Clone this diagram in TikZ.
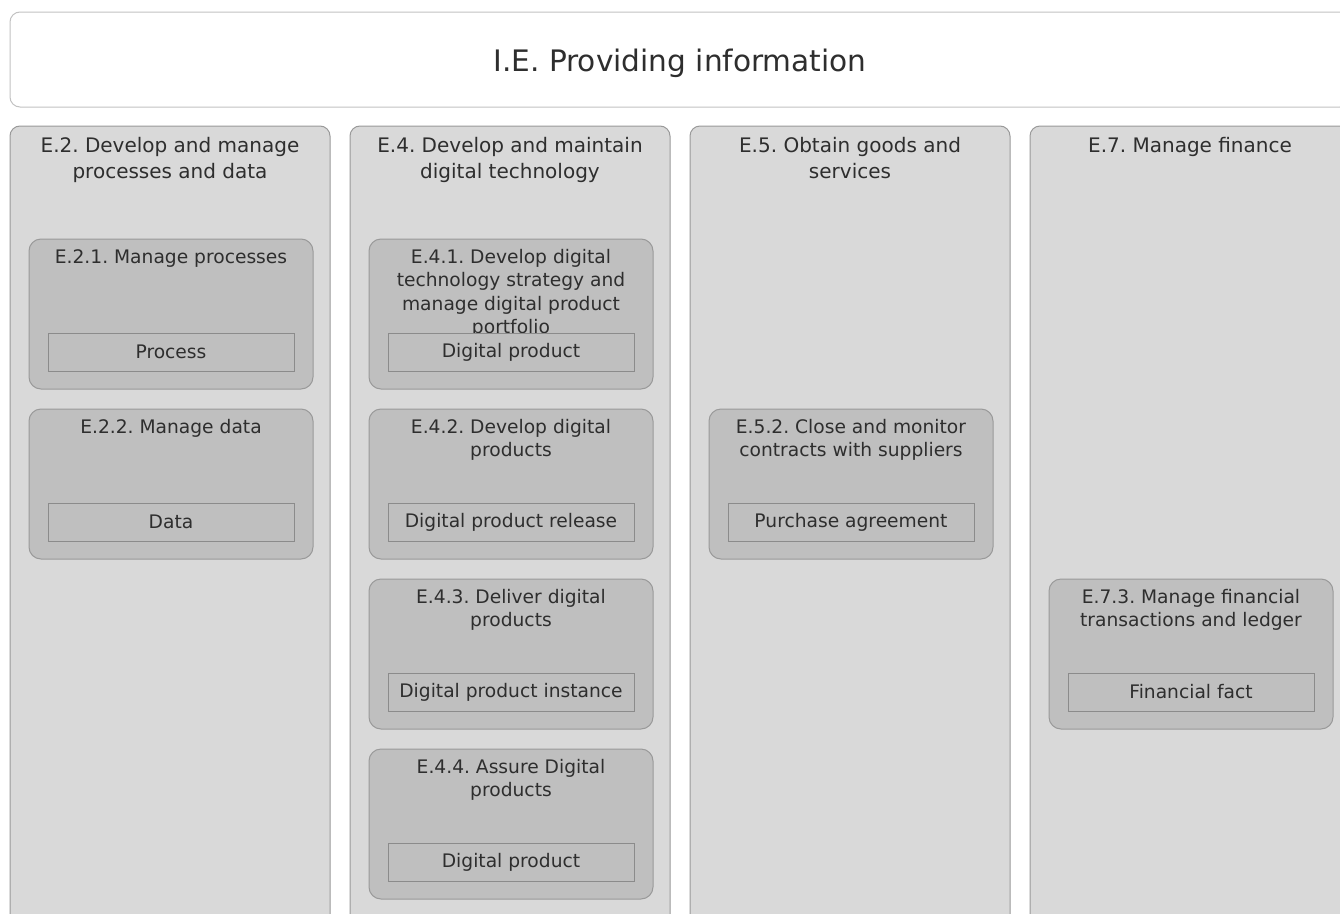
\documentclass[tikz,border=0pt]{standalone}
\usepackage{fontspec}
\setmainfont{DejaVu Sans}
\frenchspacing
\definecolor{boxline}{HTML}{9A9A9A}
\definecolor{capfill}{HTML}{D9D9D9}
\definecolor{procfill}{HTML}{BFBFBF}
\definecolor{inkgray}{HTML}{2E2E2E}
\begin{document}
\begin{tikzpicture}[x=0.75pt,y=-0.75pt,
    topbox/.style={draw=boxline!60,fill=white,rounded corners=7.5pt,line width=0.75pt,anchor=north west,minimum width=1005pt,minimum height=71.25pt,inner sep=0,outer sep=0},
    capability/.style={draw=boxline,fill=capfill,rounded corners=7.5pt,line width=0.75pt,anchor=north west,minimum width=240pt,minimum height=618pt,inner sep=0,outer sep=0},
    process/.style={draw=boxline,fill=procfill,rounded corners=9pt,line width=0.75pt,anchor=north west,minimum width=213pt,minimum height=112.5pt,inner sep=0,outer sep=0},
    entity/.style={draw=boxline!90!black,fill=procfill,line width=0.75pt,anchor=north,minimum width=184.5pt,minimum height=28.5pt,inner sep=0,outer sep=0,text=inkgray,font=\fontsize{14}{17.5}\selectfont},
    titletext/.style={anchor=base,inner sep=0,text=inkgray,font=\fontsize{22.2}{26}\selectfont},
    captext/.style={anchor=north,align=center,inner sep=0,text=inkgray,font=\fontsize{15}{19.5}\selectfont},
    proctext/.style={anchor=north,align=center,inner sep=0,text=inkgray,font=\fontsize{14}{17.5}\selectfont}]
    \useasboundingbox (0,0) rectangle (1340,914);
    \clip (0,0) rectangle (1340,914);
    \node[topbox] (ie) at (10,12) {};
    \node[titletext] (ietitle) at (680,71) {I.E. Providing information};
    \foreach \x/\n/\t in {10/e2/{E.2. Develop and manage\\processes and data},350/e4/{E.4. Develop and maintain\\digital technology},690/e5/{E.5. Obtain goods and\\services},1030/e7/{E.7. Manage finance}} {
        \node[capability] (\n) at (\x,126) {};
        \node[captext] (\n title) at ([yshift=-8pt]\n.north) {\t};
    }
    \foreach \x/\y/\n/\t/\d in {29/239/e21/{E.2.1. Manage processes}/Process,29/409/e22/{E.2.2. Manage data}/Data,369/239/e41/{E.4.1. Develop digital\\technology strategy and\\manage digital product\\portfolio}/Digital product,369/409/e42/{E.4.2. Develop digital\\products}/Digital product release,369/579/e43/{E.4.3. Deliver digital\\products}/Digital product instance,369/749/e44/{E.4.4. Assure Digital\\products}/Digital product,709/409/e52/{E.5.2. Close and monitor\\contracts with suppliers}/Purchase agreement,1049/579/e73/{E.7.3. Manage financial\\transactions and ledger}/Financial fact} {
        \node[process] (\n) at (\x,\y) {};
        \node[proctext] (\n title) at ([yshift=-7.5pt]\n.north) {\t};
        \node[entity] (\n data) at ([yshift=-70.5pt]\n.north) {\d};
    }
\end{tikzpicture}
\end{document}
